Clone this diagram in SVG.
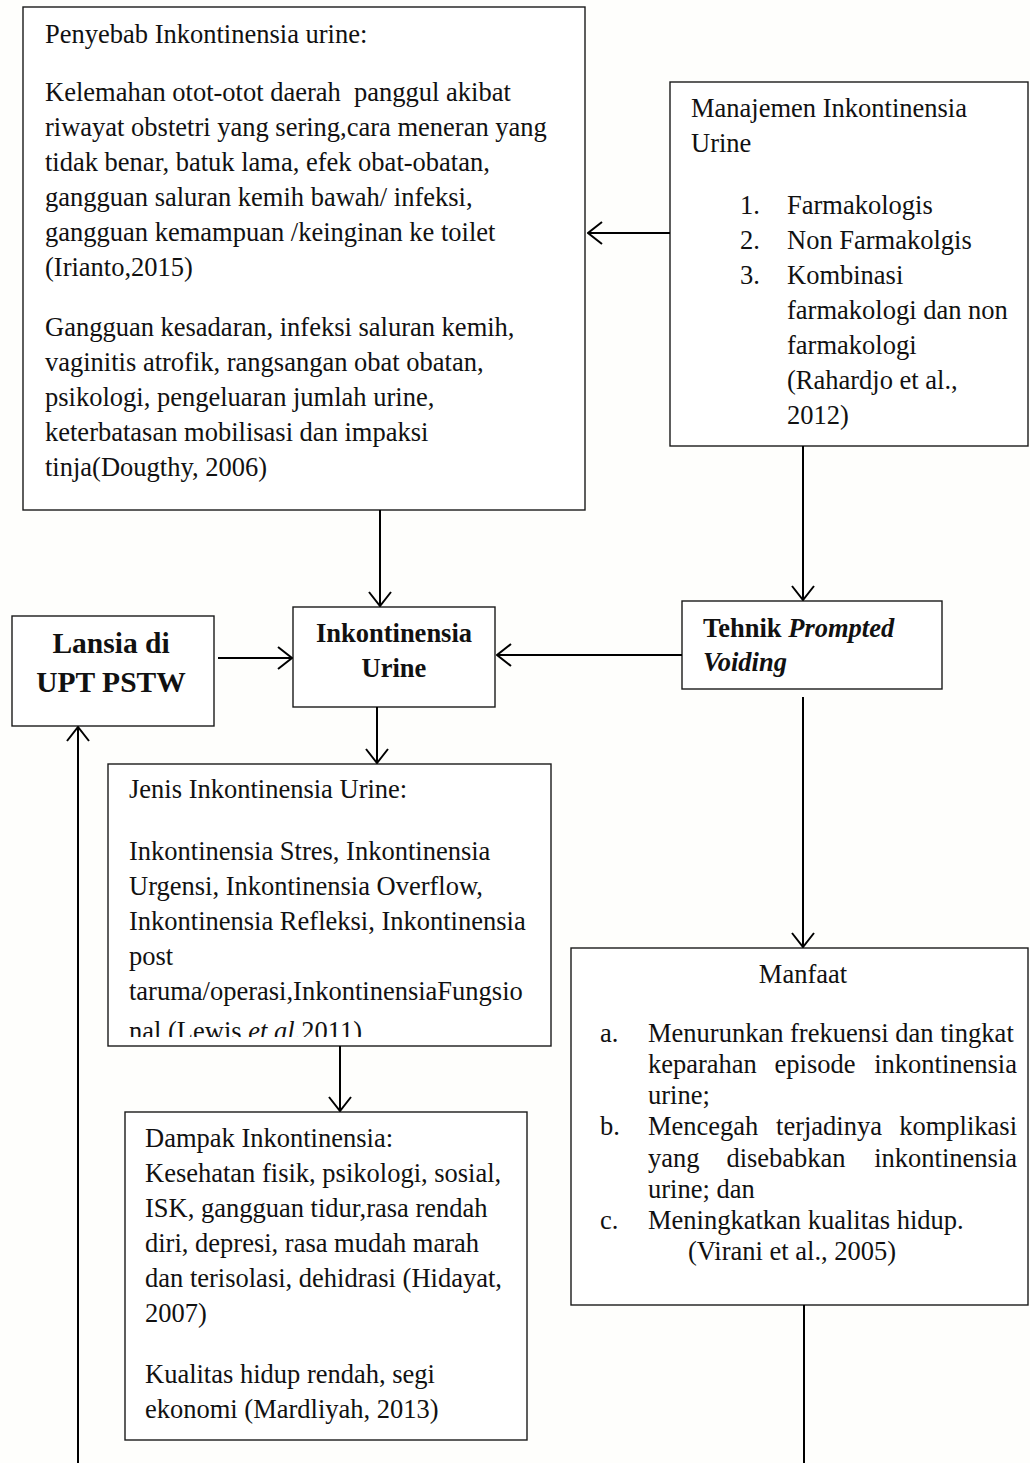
<svg xmlns="http://www.w3.org/2000/svg" width="1030" height="1463" viewBox="0 0 1030 1463">
<style>
.box{fill:#ffffff;stroke:#1a1a1a;stroke-width:1.4}
.t{font-family:"Liberation Serif","Times New Roman",serif;font-size:26.5px;fill:#111}
.b{font-family:"Liberation Serif","Times New Roman",serif;font-weight:bold;font-size:26.5px;fill:#111}
.big{font-size:29.5px}
.c{text-anchor:middle}
.e{text-anchor:end}
.ln{fill:none;stroke:#000;stroke-width:2}
</style>
<defs>
<marker id="ah" viewBox="0 0 16 24" refX="15" refY="12" markerWidth="16" markerHeight="24" markerUnits="userSpaceOnUse" orient="auto">
<path d="M1,1 L15,12 L1,23" fill="none" stroke="#000" stroke-width="2"/>
</marker>
<clipPath id="jclip"><rect x="108" y="764" width="443" height="273"/></clipPath>
</defs>
<rect x="0" y="0" width="1030" height="1463" fill="#fefefc"/>

<g id="penyebab">
<rect class="box" x="23" y="7" width="562" height="503"/>
<text class="t" x="45" y="43">Penyebab Inkontinensia urine:</text>
<text class="t" x="45" y="101" xml:space="preserve">Kelemahan otot-otot daerah  panggul akibat</text>
<text class="t" x="45" y="136">riwayat obstetri yang sering,cara meneran yang</text>
<text class="t" x="45" y="171">tidak benar, batuk lama, efek obat-obatan,</text>
<text class="t" x="45" y="206">gangguan saluran kemih bawah/ infeksi,</text>
<text class="t" x="45" y="241">gangguan kemampuan /keinginan ke toilet</text>
<text class="t" x="45" y="276">(Irianto,2015)</text>
<text class="t" x="45" y="336">Gangguan kesadaran, infeksi saluran kemih,</text>
<text class="t" x="45" y="371">vaginitis atrofik, rangsangan obat obatan,</text>
<text class="t" x="45" y="406">psikologi, pengeluaran jumlah urine,</text>
<text class="t" x="45" y="441">keterbatasan mobilisasi dan impaksi</text>
<text class="t" x="45" y="476">tinja(Dougthy, 2006)</text>
</g>

<g id="manajemen">
<rect class="box" x="670" y="82" width="358" height="364"/>
<text class="t" x="691" y="117">Manajemen Inkontinensia</text>
<text class="t" x="691" y="152">Urine</text>
<text class="t" x="740" y="214">1.</text>
<text class="t" x="787" y="214">Farmakologis</text>
<text class="t" x="740" y="249">2.</text>
<text class="t" x="787" y="249">Non Farmakolgis</text>
<text class="t" x="740" y="284">3.</text>
<text class="t" x="787" y="284">Kombinasi</text>
<text class="t" x="787" y="319">farmakologi dan non</text>
<text class="t" x="787" y="354">farmakologi</text>
<text class="t" x="787" y="389">(Rahardjo et al.,</text>
<text class="t" x="787" y="424">2012)</text>
</g>

<g id="lansia">
<rect class="box" x="12" y="616" width="202" height="110"/>
<text class="b big c" x="111" y="653">Lansia di</text>
<text class="b big c" x="111" y="692">UPT PSTW</text>
</g>

<g id="inkontinensia">
<rect class="box" x="293" y="607" width="202" height="100"/>
<text class="b c" x="394" y="642">Inkontinensia</text>
<text class="b c" x="394" y="677">Urine</text>
</g>

<g id="tehnik">
<rect class="box" x="682" y="601" width="260" height="88"/>
<text class="b" x="703" y="637">Tehnik <tspan font-style="italic">Prompted</tspan></text>
<text class="b" x="703" y="671" font-style="italic">Voiding</text>
</g>

<g id="jenis">
<rect class="box" x="108" y="764" width="443" height="282"/>
<g clip-path="url(#jclip)">
<text class="t" x="129" y="798">Jenis Inkontinensia Urine:</text>
<text class="t" x="129" y="860">Inkontinensia Stres, Inkontinensia</text>
<text class="t" x="129" y="895">Urgensi, Inkontinensia Overflow,</text>
<text class="t" x="129" y="930">Inkontinensia Refleksi, Inkontinensia</text>
<text class="t" x="129" y="965">post</text>
<text class="t" x="129" y="1000">taruma/operasi,InkontinensiaFungsio</text>
<text class="t" x="129" y="1040">nal (Lewis <tspan font-style="italic">et al.</tspan>2011)</text>
</g>
</g>

<g id="dampak">
<rect class="box" x="125" y="1112" width="402" height="328"/>
<text class="t" x="145" y="1147">Dampak Inkontinensia:</text>
<text class="t" x="145" y="1182">Kesehatan fisik, psikologi, sosial,</text>
<text class="t" x="145" y="1217">ISK, gangguan tidur,rasa rendah</text>
<text class="t" x="145" y="1252">diri, depresi, rasa mudah marah</text>
<text class="t" x="145" y="1287">dan terisolasi, dehidrasi (Hidayat,</text>
<text class="t" x="145" y="1322">2007)</text>
<text class="t" x="145" y="1383">Kualitas hidup rendah, segi</text>
<text class="t" x="145" y="1418">ekonomi (Mardliyah, 2013)</text>
</g>

<g id="manfaat">
<rect class="box" x="571" y="948" width="457" height="357"/>
<text class="t c" x="803" y="983">Manfaat</text>
<text class="t" x="600" y="1042">a.</text>
<text class="t" x="648" y="1042">Menurunkan frekuensi dan tingkat</text>
<text class="t" x="648" y="1073">keparahan</text>
<text class="t c" x="815" y="1073">episode</text>
<text class="t e" x="1017" y="1073">inkontinensia</text>
<text class="t" x="648" y="1104">urine;</text>
<text class="t" x="600" y="1135">b.</text>
<text class="t" x="648" y="1135">Mencegah</text>
<text class="t c" x="829" y="1135">terjadinya</text>
<text class="t e" x="1017" y="1135">komplikasi</text>
<text class="t" x="648" y="1167">yang</text>
<text class="t c" x="786" y="1167">disebabkan</text>
<text class="t e" x="1017" y="1167">inkontinensia</text>
<text class="t" x="648" y="1198">urine; dan</text>
<text class="t" x="600" y="1229">c.</text>
<text class="t" x="648" y="1229">Meningkatkan kualitas hidup.</text>
<text class="t" x="688" y="1260">(Virani et al., 2005)</text>
</g>

<g id="connectors">
<line class="ln" x1="670" y1="233" x2="588" y2="233" marker-end="url(#ah)"/>
<line class="ln" x1="380" y1="510" x2="380" y2="606" marker-end="url(#ah)"/>
<line class="ln" x1="803" y1="446" x2="803" y2="600" marker-end="url(#ah)"/>
<line class="ln" x1="218" y1="658" x2="292" y2="658" marker-end="url(#ah)"/>
<line class="ln" x1="682" y1="655" x2="497" y2="655" marker-end="url(#ah)"/>
<line class="ln" x1="377" y1="707" x2="377" y2="763" marker-end="url(#ah)"/>
<line class="ln" x1="340" y1="1046" x2="340" y2="1111" marker-end="url(#ah)"/>
<line class="ln" x1="803" y1="697" x2="803" y2="947" marker-end="url(#ah)"/>
<line class="ln" x1="78" y1="1463" x2="78" y2="727" marker-end="url(#ah)"/>
<line class="ln" x1="804" y1="1305" x2="804" y2="1463"/>
</g>
</svg>
